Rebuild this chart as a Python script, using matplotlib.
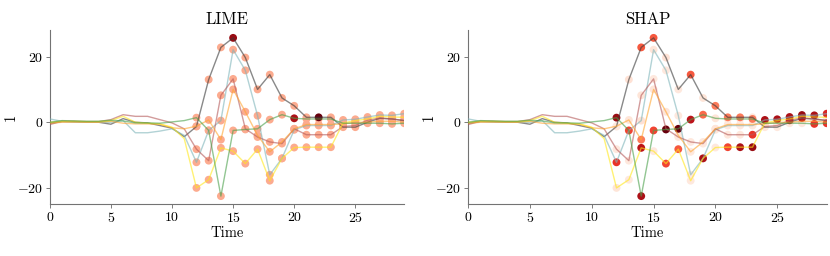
import numpy as np
import matplotlib
matplotlib.use("Agg")
import matplotlib.pyplot as plt

plt.rcParams['font.family'] = 'serif'
plt.rcParams['font.serif'] = ['cmr10', 'DejaVu Serif']
plt.rcParams['mathtext.fontset'] = 'cm'
plt.rcParams['axes.formatter.use_mathtext'] = True
plt.rcParams['axes.unicode_minus'] = True

time = np.arange(30)

# series values (t = 0..29)
gray = [-0.3, 0.2, 0.2, 0.0, 0.0, -0.6, 1.1, 0.0, -0.2, -1.0, -1.8, -4.4, -1.3, 13.0, 22.8,
        25.7, 19.7, 10.0, 14.5, 7.4, 5.0, 1.5, 1.5, 1.5, -1.5, -1.5, 0.0, 1.2, 1.0, 0.5]
teal = [1.0, 0.3, 0.0, 0.0, 0.0, 0.0, 0.5, -3.2, -3.2, -2.7, -2.0, -4.0, -12.2, -2.5, 0.5,
        22.1, 15.8, 2.0, -16.0, -11.0, -2.3, -1.0, -1.0, -1.0, 0.7, 0.9, 1.6, 2.2, 2.1, 2.6]
brown = [-0.7, 0.3, 0.3, 0.2, 0.2, 0.8, 2.3, 1.8, 1.8, 0.8, -0.2, -2.0, -8.2, -11.7, 8.2,
         13.2, -2.0, -4.5, -6.0, -6.5, -2.0, -3.8, -3.8, -3.8, -1.3, -1.0, 0.6, 1.3, 1.0, 0.5]
orange = [-0.3, 0.0, 0.0, 0.0, 0.0, 0.3, -0.3, -0.5, -0.5, -0.6, -1.7, -2.0, -1.2, 0.7, -5.3,
          10.0, 3.2, -4.0, -9.0, -6.0, -2.0, -0.7, -0.7, -0.7, -0.5, 0.0, 0.0, 0.3, 0.3, 0.0]
yellow = [0.0, 0.3, 0.3, 0.2, 0.2, 0.5, 1.8, 0.0, -0.3, -0.5, -1.5, -5.0, -20.0, -17.5, -7.8,
          -8.8, -12.6, -8.2, -17.8, -11.0, -7.7, -7.6, -7.6, -7.6, -0.2, 0.5, 1.0, 1.8, 1.6, 1.5]
green = [0.0, 0.5, 0.4, 0.3, 0.3, 0.6, 0.4, -0.2, -0.2, -0.3, 0.1, 0.5, 1.4, -2.5, -22.5,
         -2.5, -2.2, -2.0, 0.8, 2.3, 1.2, 1.0, 1.0, 1.0, -0.3, -0.3, -0.3, -0.3, -0.5, -0.3]

# importance of each point for t = 12..29
lime_gray = [0.3, 0.3, 0.3, 0.9, 0.3, 0.3, 0.3, 0.3, 0.3, 0.3, 1.0, 0.3, 0.3, 0.3, 0.3, 0.3, 0.3, 0.3]
lime_teal = [0.3] * 18
lime_brown = [0.3] * 18
lime_orange = [0.3] * 18
lime_yellow = [0.3] * 18
lime_green = [0.3, 0.3, 0.3, 0.3, 0.3, 0.3, 0.3, 0.3, 0.85, 0.3, 0.3, 0.3, 0.3, 0.3, 0.3, 0.3, 0.3, 0.3]

shap_gray = [0.08, 0.12, 0.55, 0.55, 0.12, 0.08, 0.55, 0.1, 0.45, 0.45, 0.45, 0.08, 0.08, 0.08, 0.08, 0.08, 0.08, 0.08]
shap_teal = [0.65, 0.08, 0.12, 0.1, 0.08, 0.08, 0.08, 0.08, 0.08, 0.08, 0.08, 0.08, 0.85, 0.85, 0.85, 0.9, 0.85, 0.7]
shap_brown = [0.08, 0.08, 0.1, 0.08, 0.08, 0.08, 0.08, 0.08, 0.08, 0.08, 0.08, 0.65, 0.08, 0.08, 0.75, 0.8, 0.08, 0.08]
shap_orange = [0.08, 0.1, 0.45, 0.1, 0.1, 0.08, 0.08, 0.08, 0.1, 0.08, 0.08, 0.08, 0.08, 0.08, 0.08, 0.08, 0.08, 0.08]
shap_yellow = [0.1, 0.08, 0.8, 0.08, 0.6, 0.55, 0.08, 0.85, 0.08, 0.6, 0.85, 0.9, 0.08, 0.08, 0.08, 0.08, 0.08, 0.08]
shap_green = [0.9, 0.6, 0.85, 0.6, 1.0, 1.0, 0.8, 0.5, 0.1, 0.08, 0.08, 0.45, 0.08, 0.08, 0.08, 0.08, 0.65, 0.65]

series = [gray, teal, brown, orange, yellow, green]
line_colors = ['#3a3a3a', '#7fb5ba', '#b55a5a', '#ffa530', '#ffe81a', '#4aa04a']
start = 12

panels = [
    ('LIME', [lime_gray, lime_teal, lime_brown, lime_orange, lime_yellow, lime_green]),
    ('SHAP', [shap_gray, shap_teal, shap_brown, shap_orange, shap_yellow, shap_green]),
]

fig = plt.figure(figsize=(8.3, 2.56), dpi=100)
ax_boxes = [[0.060, 0.203, 0.427, 0.68], [0.564, 0.203, 0.432, 0.68]]

for box, (title, imps) in zip(ax_boxes, panels):
    ax = fig.add_axes(box)
    for vals, col in zip(series, line_colors):
        ax.plot(time, vals, color=col, lw=1.0, alpha=0.6, zorder=3)

    # collect points, darkest drawn last
    xs, ys, cs = [], [], []
    for vals, imp in zip(series, imps):
        xs += list(time[start:])
        ys += list(vals[start:])
        cs += list(imp)
    order = np.argsort(cs, kind='stable')
    ax.scatter(np.array(xs)[order], np.array(ys)[order], c=np.array(cs)[order],
               cmap='Reds', vmin=0, vmax=1, s=32, linewidths=0, zorder=2)

    ax.set_xlim(0, 29)
    ax.set_xticks([0, 5, 10, 15, 20, 25])
    ax.set_yticks([-20, 0, 20])
    ax.set_title(title, fontsize=12, pad=4)
    ax.set_xlabel('Time', fontsize=10.5, labelpad=1)
    ax.set_ylabel('1', fontsize=10.5, va='center')
    ax.yaxis.set_label_coords(-39 / (box[2] * 830), 0.5)
    ax.tick_params(labelsize=10, length=3, width=0.6, color='0.4', pad=2)
    for side in ['top', 'right']:
        ax.spines[side].set_visible(False)
    for side in ['left', 'bottom']:
        ax.spines[side].set_color('0.45')
        ax.spines[side].set_linewidth(0.8)

plt.savefig('out.png', dpi=100)
